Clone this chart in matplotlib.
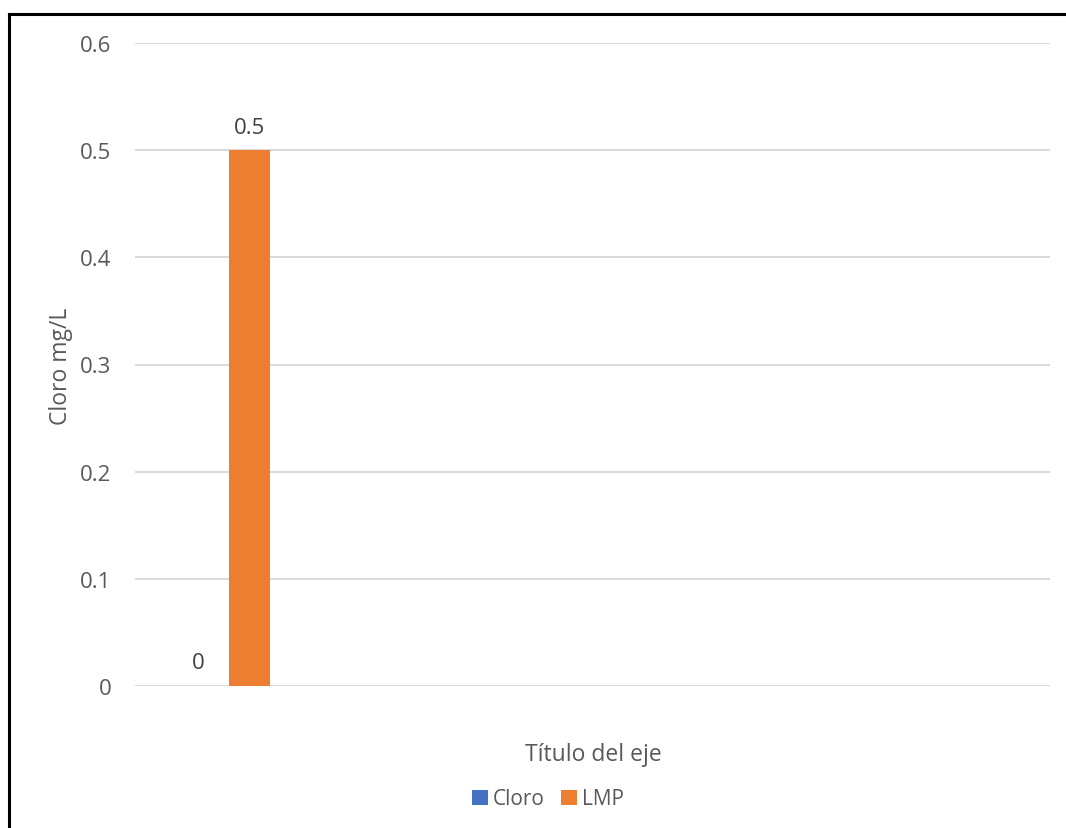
import matplotlib
matplotlib.use("Agg")
import matplotlib.pyplot as plt
from matplotlib.lines import Line2D
from matplotlib.patches import Patch
import numpy as np

plt.rcParams['font.family'] = ['Open Sans', 'DejaVu Sans']

# Data (only the first category carries values, the rest are empty)
categories = ["", "", "", "", ""]
cloro = [0, np.nan, np.nan, np.nan, np.nan]
lmp = [0.5, np.nan, np.nan, np.nan, np.nan]
series_names = ["Cloro", "LMP"]
y_ticks = [0, 0.1, 0.2, 0.3, 0.4, 0.5, 0.6]

text_color = "#595959"
blue = "#4472C4"
orange = "#ED7D31"

W, H = 1066, 829
fig = plt.figure(figsize=(W / 100, H / 100), dpi=100)
ax = fig.add_axes([135 / W, 1 - 687 / H, (1050 - 135) / W, (687 - 44) / H])

x = np.arange(len(categories))
bar_w = 0.224

b1 = ax.bar(x - 0.153, cloro, bar_w, color=blue, zorder=3)
b2 = ax.bar(x + 0.126, lmp, bar_w, color=orange, zorder=3)

# data labels, only for the bars that exist
for bars, vals in ((b1, cloro), (b2, lmp)):
    labels = ["" if np.isnan(v) else f"{v:g}" for v in vals]
    ax.bar_label(bars, labels=labels, padding=9, fontsize=16, color="#404040")

ax.set_xlim(-0.5, len(categories) - 0.5)
ax.set_ylim(0, 0.6)
ax.set_yticks(y_ticks)
ax.set_yticklabels([f"{t:g}" for t in y_ticks], fontsize=16, color=text_color)
ax.set_xticks(x)
ax.set_xticklabels(categories)
ax.tick_params(axis="both", length=0)
ax.tick_params(axis="y", pad=17)

ax.grid(axis="y", color="#D9D9D9", linewidth=1.4, zorder=0)
for s in ax.spines.values():
    s.set_visible(False)

fig.text(61 / W, 1 - 366 / H, "Cloro mg/L", fontsize=16.5, color=text_color,
         rotation=90, ha="center", va="center")
fig.text(593 / W, 1 - 755 / H, "Título del eje", fontsize=16.5, color=text_color,
         ha="center", va="center")

handles = [Patch(facecolor=blue), Patch(facecolor=orange)]
fig.legend(handles, series_names, loc="center", bbox_to_anchor=(548 / W, 1 - 800 / H),
           ncol=2, frameon=False, fontsize=15, labelcolor=text_color,
           handlelength=0.75, handleheight=0.75, handletextpad=0.25, columnspacing=0.8)

# outer frame (left and top edges visible in the reference)
fig.add_artist(Line2D([9 / W, 9 / W], [0, 1 - 15 / H], color="black", linewidth=2.2,
                      transform=fig.transFigure))
fig.add_artist(Line2D([9 / W, 1], [1 - 15 / H, 1 - 15 / H], color="black", linewidth=2.2,
                      transform=fig.transFigure))

fig.savefig("out.png", dpi=100, facecolor="white")
